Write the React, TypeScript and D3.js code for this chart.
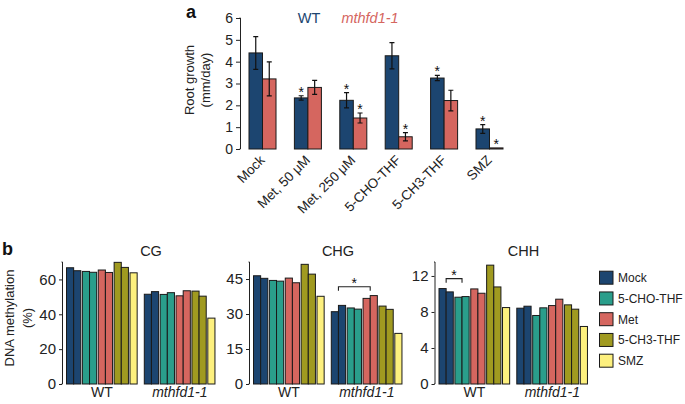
import React, { useEffect, useRef } from 'react';
import * as d3 from 'd3';

// ---------- Panel a data ----------
const rootCategories = ['Mock', 'Met, 50 μM', 'Met, 250 μM', '5-CHO-THF', '5-CH3-THF', 'SMZ'];
const rootGenotypes = ['WT', 'mthfd1-1'];
const rootWT = [4.40, 2.34, 2.23, 4.27, 3.25, 0.92];
const rootWTErr = [0.75, 0.1, 0.35, 0.6, 0.12, 0.2];
const rootMut = [3.21, 2.82, 1.42, 0.56, 2.22, 0.05];
const rootMutErr = [0.78, 0.32, 0.23, 0.19, 0.47, 0.0];
const rootWTSig = [false, true, true, false, true, true];
const rootMutSig = [false, false, true, true, false, true];
const rootTicks = [0, 1, 2, 3, 4, 5, 6];

// ---------- Panel b data ----------
const treatments = ['Mock', '5-CHO-THF', 'Met', '5-CH3-THF', 'SMZ'];
const barTreatment = [0, 0, 1, 1, 2, 2, 3, 3, 4];
const barRep = [0, 1, 0, 1, 0, 1, 0, 1, 0];
const methGroups = ['WT', 'mthfd1-1'];
const contexts = ['CG', 'CHG', 'CHH'];
const cgWT = [66.7, 65.0, 64.6, 64.1, 65.4, 64.0, 69.8, 66.9, 63.8];
const cgMut = [51.5, 53.0, 51.4, 52.4, 50.6, 53.5, 53.3, 50.4, 37.8];
const chgWT = [46.4, 45.3, 44.4, 44.1, 45.4, 43.4, 51.3, 47.1, 37.6];
const chgMut = [31.0, 33.7, 32.6, 32.1, 36.7, 37.9, 33.4, 32.0, 21.7];
const chhWT = [10.6, 10.23, 9.64, 9.71, 10.56, 10.08, 13.2, 10.78, 8.49];
const chhMut = [8.42, 8.64, 7.61, 8.46, 8.71, 9.42, 8.79, 8.31, 6.39];
const cgTicks = [0, 20, 40, 60];
const chgTicks = [0, 15, 30, 45];
const chhTicks = [0, 4, 8, 12];
const methMax = [70, 52.3, 13.55];

const FONT = '"Liberation Sans", Arial, Helvetica, sans-serif';
const NAVY = '#1c4570';
const RED = '#d5665f';
const treatColors = ['#1c4570', '#2a9e8b', '#d5665f', '#a09a20', '#fdf07e'];

export default function App() {
  const ref = useRef<SVGSVGElement | null>(null);

  useEffect(() => {
    const svg = d3.select(ref.current);
    svg.selectAll('*').remove();

    // ================= Panel a =================
    const a = svg.append('g');
    const yA = d3.scaleLinear().domain([0, 6]).range([149, 18]);
    const xA = d3.scaleBand<string>().domain(rootCategories).range([249, 503]).paddingInner(0.405).paddingOuter(0);
    const xSub = d3.scaleBand<string>().domain(rootGenotypes).range([0, xA.bandwidth()]);

    const yAxisA = a.append('g').attr('transform', 'translate(240,0)')
      .call(d3.axisLeft(yA).tickValues(rootTicks).tickSize(4).tickPadding(3).tickFormat(d3.format('d')));
    yAxisA.select('.domain').attr('d', `M-0.5,${yA(6)}H0.5V${yA(0)}H-0.5`).attr('stroke', '#222');
    yAxisA.selectAll('.tick line').attr('stroke', '#222');
    yAxisA.selectAll('text').attr('font-family', FONT).attr('font-size', 14).attr('fill', '#222');

    const series = [
      { g: 'WT', vals: rootWT, err: rootWTErr, sig: rootWTSig, color: NAVY },
      { g: 'mthfd1-1', vals: rootMut, err: rootMutErr, sig: rootMutSig, color: RED },
    ];
    series.forEach((s) => {
      rootCategories.forEach((c, i) => {
        const x0 = (xA(c) as number) + (xSub(s.g) as number);
        const w = xSub.bandwidth();
        const v = s.vals[i];
        a.append('rect').attr('x', x0).attr('y', yA(v)).attr('width', w).attr('height', yA(0) - yA(v))
          .attr('fill', s.color).attr('stroke', '#1a1a1a').attr('stroke-width', 1);
        const cx = x0 + w / 2;
        const e = s.err[i];
        if (e > 0) {
          const t = yA(v + e), b = yA(v - e);
          a.append('path').attr('d', `M${cx},${t}V${b}M${cx - 2.5},${t}H${cx + 2.5}M${cx - 2.5},${b}H${cx + 2.5}`)
            .attr('stroke', '#111').attr('stroke-width', 1.2).attr('fill', 'none');
        }
        if (s.sig[i]) {
          a.append('text').attr('x', cx).attr('y', yA(v + e) + 1).attr('text-anchor', 'middle')
            .attr('font-family', FONT).attr('font-size', 14).attr('fill', '#111').text('*');
        }
      });
    });

    // x labels
    rootCategories.forEach((c) => {
      const cx = (xA(c) as number) + xA.bandwidth() / 2 + 3;
      a.append('text').attr('transform', `translate(${cx},161) rotate(-45)`).attr('text-anchor', 'end')
        .attr('font-family', FONT).attr('font-size', 13.5).attr('fill', '#222').text(c);
    });

    // y label
    a.append('text').attr('transform', 'translate(194,80) rotate(-90)').attr('text-anchor', 'middle')
      .attr('font-family', FONT).attr('font-size', 13).attr('fill', '#222').text('Root growth');
    a.append('text').attr('transform', 'translate(210,80) rotate(-90)').attr('text-anchor', 'middle')
      .attr('font-family', FONT).attr('font-size', 13).attr('fill', '#222').text('(mm/day)');

    // legend
    a.append('text').attr('x', 309).attr('y', 23).attr('text-anchor', 'middle').attr('font-family', FONT)
      .attr('font-size', 14.5).attr('fill', NAVY).text('WT');
    a.append('text').attr('x', 370).attr('y', 23).attr('text-anchor', 'middle').attr('font-family', FONT)
      .attr('font-size', 14.5).attr('font-style', 'italic').attr('fill', RED).text('mthfd1-1');

    a.append('text').attr('x', 186).attr('y', 18).attr('font-family', FONT).attr('font-size', 18)
      .attr('font-weight', 'bold').attr('fill', '#111').text('a');

    // ================= Panel b =================
    const b = svg.append('g');
    b.append('text').attr('x', 2).attr('y', 255).attr('font-family', FONT).attr('font-size', 18)
      .attr('font-weight', 'bold').attr('fill', '#111').text('b');
    b.append('text').attr('transform', 'translate(13.5,318) rotate(-90)').attr('text-anchor', 'middle')
      .attr('font-family', FONT).attr('font-size', 13).attr('fill', '#222').text('DNA methylation');
    b.append('text').attr('transform', 'translate(32,318) rotate(-90)').attr('text-anchor', 'middle')
      .attr('font-family', FONT).attr('font-size', 13).attr('fill', '#222').text('(%)');

    const panels = [
      { name: contexts[0], axisX: 62, wt: cgWT, mut: cgMut, ticks: cgTicks, max: methMax[0], bracket: null as null | { group: string; from: number; to: number; y: number } },
      { name: contexts[1], axisX: 249, wt: chgWT, mut: chgMut, ticks: chgTicks, max: methMax[1], bracket: { group: 'mthfd1-1', from: 0, to: 2, y: 41.7 } },
      { name: contexts[2], axisX: 434.5, wt: chhWT, mut: chhMut, ticks: chhTicks, max: methMax[2], bracket: { group: 'WT', from: 0, to: 1, y: 11.7 } },
    ];

    panels.forEach((p) => {
      const g = b.append('g');
      const y = d3.scaleLinear().domain([0, p.max]).range([384, 262]);
      const start = p.axisX + 4.5;
      const xG = d3.scaleBand<string>().domain(methGroups).range([start, start + 2 * 77.8]).paddingInner(0).paddingOuter(0);
      const xT = d3.scaleBand<string>().domain(treatments).range([0, 77.8]).paddingInner(0.1).paddingOuter(0);
      const xR = d3.scaleBand<number>().domain([0, 1]).range([0, xT.bandwidth()]);

      const ax = g.append('g').attr('transform', `translate(${p.axisX},0)`)
        .call(d3.axisLeft(y).tickValues(p.ticks).tickSize(3).tickPadding(3).tickFormat(d3.format('d')));
      ax.select('.domain').attr('d', `M-0.5,262H0.5V384H-0.5`).attr('stroke', '#222');
      ax.selectAll('.tick line').attr('stroke', '#222');
      ax.selectAll('text').attr('font-family', FONT).attr('font-size', 15).attr('fill', '#222');

      methGroups.forEach((grp, gi) => {
        const vals = gi === 0 ? p.wt : p.mut;
        vals.forEach((v, i) => {
          const x0 = (xG(grp) as number) + (xT(treatments[barTreatment[i]]) as number) + (xR(barRep[i]) as number);
          g.append('rect').attr('x', x0).attr('y', y(v)).attr('width', xR.bandwidth()).attr('height', y(0) - y(v))
            .attr('fill', treatColors[barTreatment[i]]).attr('stroke', '#1a1a1a').attr('stroke-width', 1);
        });
        g.append('text').attr('x', (xG(grp) as number) + 35.5).attr('y', 397).attr('text-anchor', 'middle')
          .attr('font-family', FONT).attr('font-size', 14).attr('font-style', gi === 1 ? 'italic' : 'normal')
          .attr('fill', '#222').text(grp);
      });

      if (p.bracket) {
        const br = p.bracket;
        const gx = xG(br.group) as number;
        const x1 = gx + (xT(treatments[br.from]) as number) + xT.bandwidth() / 2;
        const x2 = gx + (xT(treatments[br.to]) as number) + xT.bandwidth() / 2;
        const by = y(br.y);
        g.append('path').attr('d', `M${x1},${by + 4}V${by}H${x2}V${by + 4}`).attr('stroke', '#222')
          .attr('stroke-width', 1.1).attr('fill', 'none');
        g.append('text').attr('x', (x1 + x2) / 2).attr('y', by + 1).attr('text-anchor', 'middle')
          .attr('font-family', FONT).attr('font-size', 14).attr('fill', '#111').text('*');
      }

      g.append('text').attr('x', p.axisX + 89).attr('y', 256).attr('text-anchor', 'middle')
        .attr('font-family', FONT).attr('font-size', 14.5).attr('fill', '#222').text(p.name);
    });

    // legend b
    const leg = b.append('g');
    treatments.forEach((t, i) => {
      const cy = 277.7 + i * 20.75;
      leg.append('rect').attr('x', 599.5).attr('y', cy - 6.5).attr('width', 13.5).attr('height', 13)
        .attr('fill', treatColors[i]).attr('stroke', '#1a1a1a').attr('stroke-width', 1);
      leg.append('text').attr('x', 618).attr('y', cy + 4.5).attr('font-family', FONT).attr('font-size', 12)
        .attr('fill', '#222').text(t);
    });
  }, []);

  return (
    <svg ref={ref} width={685} height={404} style={{ position: 'absolute', left: 0, top: 0, background: '#fff' }} />
  );
}
